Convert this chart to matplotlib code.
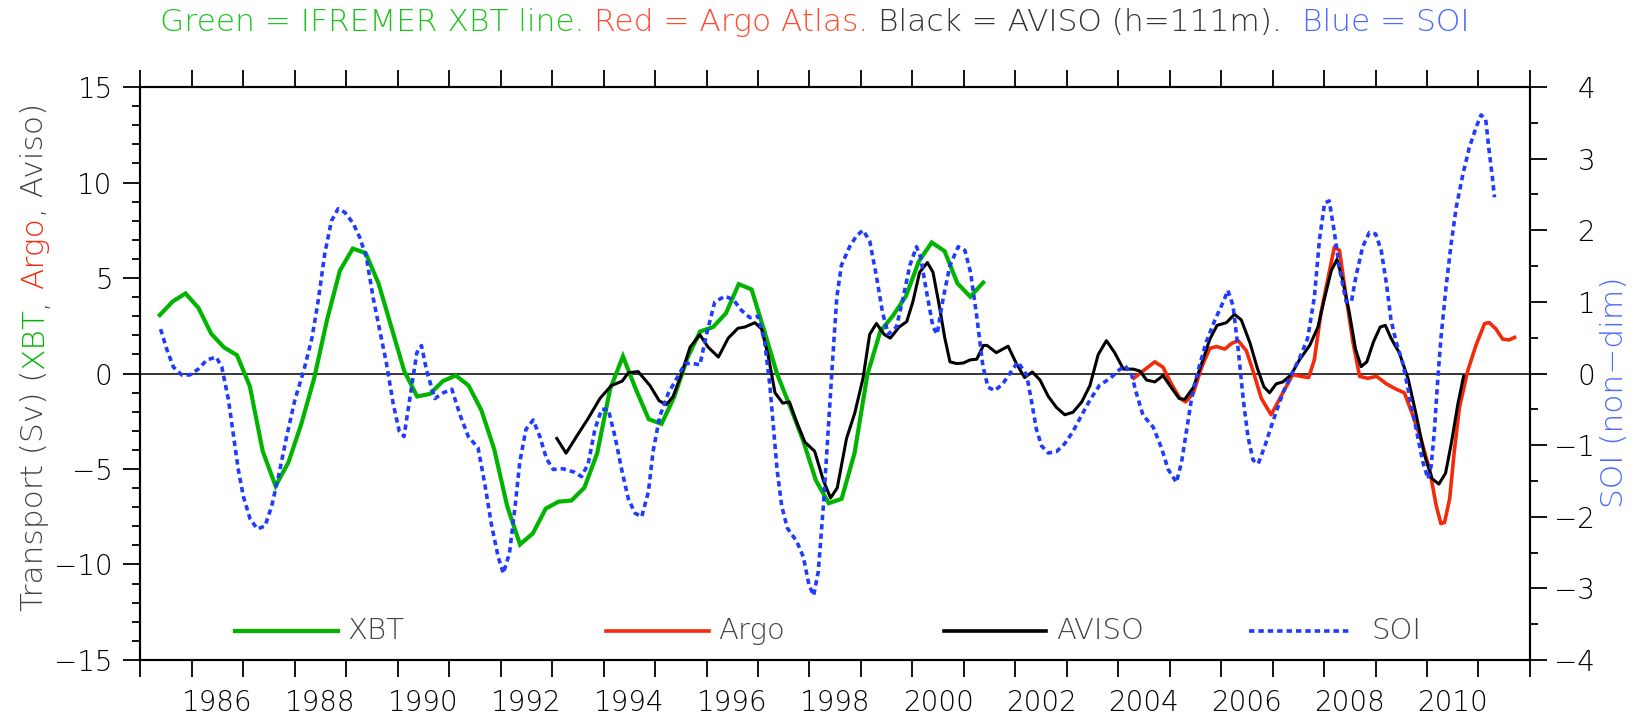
import matplotlib
matplotlib.use('Agg')
import matplotlib.pyplot as plt
import numpy as np
from matplotlib.ticker import FixedLocator, NullFormatter, FixedFormatter

plt.rcParams['font.family'] = ['DejaVu Sans']
plt.rcParams['font.weight'] = 'light'
plt.rcParams['axes.unicode_minus'] = True

# IFREMER XBT line, quarterly means (Sv)
xbt_start = 1985.375
xbt = [3.06, 3.77, 4.19, 3.44, 2.08, 1.36, 0.96, -0.67, -4.07, -5.89, -4.65,
       -2.64, -0.25, 2.81, 5.39, 6.54, 6.31, 4.72, 2.43, 0.13, -1.20, -1.07,
       -0.40, -0.10, -0.63, -1.93, -3.98, -6.94, -8.95, -8.37, -7.07, -6.71,
       -6.65, -5.98, -4.17, -0.82, 0.90, -0.82, -2.39, -2.64, -1.20, 0.80,
       2.20, 2.43, 3.15, 4.68, 4.40, 2.20, -0.06, -1.74, -3.50, -5.60, -6.79,
       -6.56, -4.17, -0.06, 2.20, 3.04, 4.05, 5.87, 6.86, 6.41, 4.72, 4.02,
       4.76]
xbt_time = xbt_start + 0.25 * np.arange(len(xbt))

# AVISO transport (h=111m), Sv
aviso_time = [1993.09, 1993.27, 1993.47, 1993.70, 1993.93, 1994.15, 1994.36,
              1994.48, 1994.67, 1994.90, 1995.08, 1995.22, 1995.35, 1995.51,
              1995.68, 1995.87, 1996.03, 1996.23, 1996.42, 1996.61, 1996.74,
              1996.94, 1997.07, 1997.20, 1997.33, 1997.48, 1997.61, 1997.75,
              1997.91, 1998.10, 1998.27, 1998.41, 1998.54, 1998.72, 1998.88,
              1999.04, 1999.17, 1999.30, 1999.45, 1999.57, 1999.74, 1999.89,
              2000.01, 2000.14, 2000.29, 2000.40, 2000.52, 2000.63, 2000.73,
              2000.86, 2000.99, 2001.12, 2001.25, 2001.38, 2001.45, 2001.63,
              2001.86, 2002.02, 2002.18, 2002.33, 2002.48, 2002.64, 2002.80,
              2002.96, 2003.12, 2003.29, 2003.45, 2003.61, 2003.77, 2003.93,
              2004.10, 2004.29, 2004.42, 2004.55, 2004.71, 2004.87, 2005.03,
              2005.18, 2005.29, 2005.46, 2005.62, 2005.78, 2005.92, 2006.10,
              2006.26, 2006.39, 2006.56, 2006.70, 2006.83, 2006.94, 2007.07,
              2007.20, 2007.36, 2007.52, 2007.72, 2007.88, 2008.01, 2008.14,
              2008.25, 2008.36, 2008.49, 2008.61, 2008.72, 2008.83, 2008.96,
              2009.09, 2009.19, 2009.30, 2009.46, 2009.63, 2009.79, 2009.95,
              2010.10, 2010.23, 2010.36, 2010.47, 2010.60, 2010.71]
aviso = [-3.40, -4.17, -3.31, -2.35, -1.30, -0.63, -0.40, 0.04, 0.10, -0.63,
         -1.43, -1.63, -1.20, -0.06, 1.38, 2.03, 1.38, 0.86, 1.85, 2.37, 2.43,
         2.66, 2.33, 0.90, -1.01, -1.55, -1.49, -2.54, -3.59, -4.07, -5.60,
         -6.52, -5.98, -3.40, -2.07, -0.25, 2.05, 2.62, 2.05, 1.85, 2.43, 2.72,
         3.77, 5.30, 5.81, 5.30, 3.58, 1.85, 0.61, 0.52, 0.55, 0.71, 0.75,
         1.47, 1.47, 1.09, 1.43, 0.52, -0.21, 0.08, -0.34, -1.20, -1.78,
         -2.16, -2.03, -1.49, -0.63, 0.99, 1.72, 1.09, 0.23, 0.23, 0.13,
         -0.34, -0.44, -0.11, -0.73, -1.30, -1.36, -0.73, 0.52, 1.80, 2.52,
         2.66, 3.10, 2.81, 1.60, 0.30, -0.70, -1.01, -0.54, -0.44, -0.06,
         0.71, 1.47, 2.43, 3.96, 5.39, 5.97, 4.91, 3.19, 1.28, 0.36, 0.61,
         1.66, 2.43, 2.52, 1.85, 1.09, -0.25, -2.16, -4.26, -5.51, -5.79,
         -5.22, -3.69, -1.59, -0.15]

# Argo atlas transport, Sv
argo_time = [2004.30, 2004.48, 2004.71, 2004.87, 2005.03, 2005.20, 2005.31,
             2005.46, 2005.62, 2005.78, 2005.91, 2006.07, 2006.20, 2006.33,
             2006.49, 2006.62, 2006.78, 2006.97, 2007.20, 2007.39, 2007.55,
             2007.70, 2007.81, 2007.94, 2008.07, 2008.20, 2008.30, 2008.43,
             2008.56, 2008.69, 2008.85, 2009.02, 2009.21, 2009.40, 2009.56,
             2009.72, 2009.89, 2010.05, 2010.18, 2010.27, 2010.34, 2010.44,
             2010.53, 2010.63, 2010.79, 2010.95, 2011.12, 2011.21, 2011.34,
             2011.47, 2011.60, 2011.70]
argo = [-0.25, 0.13, 0.61, 0.33, -0.54, -1.30, -1.49, -1.01, 0.33, 1.32,
        1.41, 1.28, 1.57, 1.72, 1.19, 0.13, -1.30, -2.16, -1.01, -0.06,
        -0.15, -0.21, 0.71, 3.19, 4.91, 6.63, 6.44, 3.96, 1.66, -0.15, -0.25,
        -0.15, -0.54, -0.82, -1.01, -2.16, -3.50, -5.03, -6.94, -7.86, -7.80,
        -6.56, -4.07, -1.78, 0.13, 1.47, 2.62, 2.66, 2.33, 1.80, 1.76, 1.89]

# Southern Oscillation Index (non-dimensional)
soi_time = [1985.39, 1985.51, 1985.64, 1985.80, 1985.96, 1986.12, 1986.29,
            1986.47, 1986.58, 1986.71, 1986.80, 1986.90, 1987.00, 1987.13,
            1987.27, 1987.42, 1987.55, 1987.68, 1987.84, 1988.00, 1988.18,
            1988.33, 1988.45, 1988.58, 1988.71, 1988.84, 1988.97, 1989.13,
            1989.26, 1989.39, 1989.52, 1989.65, 1989.78, 1989.91, 1990.03,
            1990.12, 1990.24, 1990.37, 1990.46, 1990.56, 1990.72, 1990.88,
            1991.05, 1991.21, 1991.37, 1991.56, 1991.69, 1991.82, 1991.95,
            1992.05, 1992.17, 1992.28, 1992.37, 1992.49, 1992.63, 1992.76,
            1992.89, 1993.02, 1993.21, 1993.44, 1993.57, 1993.70, 1993.83,
            1993.96, 1994.09, 1994.22, 1994.35, 1994.48, 1994.61, 1994.74,
            1994.87, 1994.96, 1995.09, 1995.26, 1995.42, 1995.58, 1995.74,
            1995.87, 1996.00, 1996.16, 1996.36, 1996.52, 1996.68, 1996.84,
            1997.00, 1997.13, 1997.23, 1997.31, 1997.37, 1997.46, 1997.57,
            1997.75, 1997.88, 1997.99, 1998.08, 1998.17, 1998.27, 1998.36,
            1998.45, 1998.53, 1998.62, 1998.78, 1998.91, 1999.04, 1999.17,
            1999.30, 1999.42, 1999.53, 1999.69, 1999.82, 1999.95, 2000.08,
            2000.16, 2000.27, 2000.40, 2000.48, 2000.60, 2000.73, 2000.89,
            2001.02, 2001.13, 2001.25, 2001.37, 2001.47, 2001.60, 2001.76,
            2001.93, 2002.05, 2002.22, 2002.31, 2002.41, 2002.51, 2002.64,
            2002.80, 2002.96, 2003.12, 2003.29, 2003.45, 2003.64, 2003.84,
            2004.00, 2004.13, 2004.26, 2004.35, 2004.48, 2004.68, 2004.84,
            2004.97, 2005.13, 2005.23, 2005.33, 2005.42, 2005.55, 2005.71,
            2005.88, 2006.04, 2006.13, 2006.23, 2006.33, 2006.43, 2006.52,
            2006.62, 2006.72, 2006.85, 2007.00, 2007.20, 2007.36, 2007.52,
            2007.68, 2007.81, 2007.91, 2008.01, 2008.10, 2008.20, 2008.30,
            2008.43, 2008.53, 2008.62, 2008.75, 2008.88, 2009.00, 2009.11,
            2009.21, 2009.30, 2009.40, 2009.53, 2009.66, 2009.79, 2009.92,
            2010.02, 2010.08, 2010.14, 2010.21, 2010.27, 2010.37, 2010.47,
            2010.57, 2010.70, 2010.82, 2010.95, 2011.05, 2011.14, 2011.20,
            2011.27, 2011.31]
soi = [0.62, 0.34, 0.09, -0.02, -0.02, 0.06, 0.19, 0.23, 0.09, -0.37, -0.83,
       -1.34, -1.72, -2.03, -2.17, -2.13, -1.85, -1.44, -0.88, -0.37, 0.06,
       0.49, 1.00, 1.67, 2.13, 2.30, 2.25, 2.10, 1.90, 1.62, 1.06, 0.60, 0.14,
       -0.42, -0.81, -0.88, -0.32, 0.29, 0.39, 0.04, -0.35, -0.27, -0.22,
       -0.58, -0.88, -1.04, -1.54, -2.11, -2.56, -2.79, -2.51, -1.85, -1.24,
       -0.78, -0.65, -0.88, -1.19, -1.34, -1.33, -1.38, -1.44, -1.26, -0.78,
       -0.50, -0.50, -0.88, -1.34, -1.75, -1.95, -2.00, -1.65, -1.09, -0.60,
       -0.27, -0.07, 0.14, 0.14, 0.12, 0.55, 1.00, 1.08, 1.03, 0.88, 0.78,
       0.80, 0.44, -0.17, -0.83, -1.34, -1.85, -2.16, -2.34, -2.56, -2.95,
       -3.10, -2.77, -1.85, -0.83, 0.19, 1.06, 1.51, 1.77, 1.92, 2.00, 1.85,
       1.36, 0.85, 0.55, 0.65, 1.06, 1.51, 1.77, 1.62, 1.16, 0.65, 0.55, 1.06,
       1.51, 1.77, 1.72, 1.41, 0.80, 0.10, -0.19, -0.24, -0.14, 0.04, 0.16,
       -0.02, -0.37, -0.78, -1.01, -1.11, -1.09, -0.98, -0.81, -0.58, -0.37,
       -0.16, -0.07, 0.04, 0.11, -0.02, -0.27, -0.58, -0.75, -1.04, -1.34,
       -1.52, -1.24, -0.78, -0.37, 0.04, 0.44, 0.75, 1.00, 1.16, 0.95, 0.34,
       -0.37, -0.88, -1.21, -1.26, -1.01, -0.68, -0.27, -0.02, 0.21, 0.49,
       1.06, 1.87, 2.38, 2.41, 1.97, 1.46, 1.00, 1.00, 1.36, 1.77, 1.97, 1.95,
       1.72, 1.26, 0.75, 0.44, 0.14, -0.32, -0.78, -1.24, -1.47, -1.29, -0.83,
       -0.07, 0.49, 1.21, 1.82, 2.33, 2.79, 3.15, 3.43, 3.61, 3.55, 3.15,
       2.74, 2.46]

year_labels = [str(y) for y in range(1986, 2011, 2)]

GREEN = '#00b400'
RED = '#f42a0a'
BLUE = '#1f3cff'
GREY = '#444444'
FS = 20      # tick labels
FS_LAB = 22.5  # title and axis labels
FS_LEG = 21

fig = plt.figure(figsize=(16.49, 7.18), dpi=100)
ax = fig.add_axes([0.0852, 0.0808, 0.8426, 0.798])
ax2 = ax.twinx()

ax.axhline(0, color='black', lw=1.1, zorder=1)
ax.plot(xbt_time, xbt, color=GREEN, lw=3.0, solid_joinstyle='miter', zorder=3)
ax.plot(argo_time, argo, color=RED, lw=2.6, zorder=4)
ax.plot(aviso_time, aviso, color='black', lw=2.2, zorder=5)
ax2.plot(soi_time, soi, color=BLUE, lw=2.6, linestyle=(0, (1.5, 1.1)),
         dash_capstyle='butt')

ax.set_xlim(1985, 2012)
ax.set_ylim(-15, 15)
ax2.set_ylim(-4, 4)

# year boundaries get plain ticks; labels sit at mid-year
ax.xaxis.set_major_locator(FixedLocator(np.arange(1985, 2013)))
ax.xaxis.set_major_formatter(NullFormatter())
ax.xaxis.set_minor_locator(FixedLocator([int(y) + 0.5 for y in year_labels]))
ax.xaxis.set_minor_formatter(FixedFormatter(year_labels))
ax.tick_params(axis='x', which='major', direction='out', length=12, width=1.3,
               top=True, bottom=True)
ax.tick_params(axis='x', which='minor', length=0, pad=21, labelsize=FS,
               top=False)

ax.set_yticks(np.arange(-15, 16, 5))
ax.set_yticks(np.arange(-15, 16, 1), minor=True)
ax.tick_params(axis='y', which='major', direction='out', length=12, width=1.3,
               pad=8, labelsize=FS)
ax.tick_params(axis='y', which='minor', direction='out', length=6, width=1.3)

ax2.set_yticks(np.arange(-4, 5, 1))
ax2.set_yticks(np.arange(-4, 4.01, 0.5), minor=True)
ax2.tick_params(axis='y', which='major', direction='out', length=12, width=1.3,
                pad=35, labelsize=FS)
ax2.tick_params(axis='y', which='minor', direction='out', length=6, width=1.3)
for lbl in ax2.get_yticklabels():
    lbl.set_horizontalalignment('right')

for a in (ax, ax2):
    for sp in a.spines.values():
        sp.set_linewidth(1.5)

# hand-made legend row along the bottom of the plot
legend_y = 0.05
entries = [(0.068, 'XBT', dict(color=GREEN, lw=3.0)),
           (0.335, 'Argo', dict(color=RED, lw=2.6)),
           (0.578, 'AVISO', dict(color='black', lw=2.6)),
           (0.798, 'SOI', dict(color=BLUE, lw=2.6, linestyle=(0, (1.5, 1.1))))]
for x0, name, style in entries:
    ax.plot([x0, x0 + 0.074], [legend_y, legend_y], transform=ax.transAxes,
            clip_on=False, **style)
    gap = 0.014 if name == 'SOI' else 0.007
    ax.text(x0 + 0.074 + gap, legend_y, name, transform=ax.transAxes,
            fontsize=FS_LEG, color=GREY, va='center', ha='left')


def chain(pieces, x, y, rotation=0, gap=7):
    """Draw differently coloured text pieces one after another."""
    first = fig.text(x, y, pieces[0][0], color=pieces[0][1], fontsize=FS_LAB,
                     rotation=rotation, ha='left', va='bottom')
    texts = [first]
    prev = first
    for s, c, g in pieces[1:]:
        if rotation == 0:
            t = plt.annotate(s, xy=(1, 0), xycoords=prev,
                             xytext=(g * gap, 0), textcoords='offset points',
                             color=c, fontsize=FS_LAB, ha='left', va='bottom',
                             annotation_clip=False)
        else:
            t = plt.annotate(s, xy=(0, 1), xycoords=prev,
                             xytext=(0, g * gap), textcoords='offset points',
                             color=c, fontsize=FS_LAB, rotation=rotation,
                             ha='left', va='bottom', annotation_clip=False)
        texts.append(t)
        prev = t
    return texts


def recentre(texts, cx, cy):
    fig.canvas.draw()
    r = fig.canvas.get_renderer()
    boxes = [t.get_window_extent(r) for t in texts]
    x0 = min(b.x0 for b in boxes)
    x1 = max(b.x1 for b in boxes)
    y0 = min(b.y0 for b in boxes)
    y1 = max(b.y1 for b in boxes)
    W, H = fig.bbox.width, fig.bbox.height
    dx = cx * W - (x0 + x1) / 2
    dy = cy * H - (y0 + y1) / 2
    px, py = texts[0].get_position()
    texts[0].set_position((px + dx / W, py + dy / H))


title = chain([('Green = IFREMER XBT line.', '#1ec41e', 0),
               ('Red = Argo Atlas.', '#ff4a30', 1),
               ('Black = AVISO (h=111m).', '#333333', 1),
               ('Blue = SOI', '#4a6aff', 2)], 0.1, 0.95)

ylab = chain([('Transport (Sv) (', GREY, 0),
              ('XBT', GREEN, 0),
              (',', GREY, 0),
              ('Argo', RED, 1),
              (', Aviso)', GREY, 0)], 0.02, 0.15, rotation=90)

soi_lab = fig.text(0.979, 0.454, 'SOI (non\u2212dim)', color='#4a6aff',
                   fontsize=FS_LAB, rotation=90, ha='center', va='center')

recentre(title, 0.494, 0.968)
recentre(ylab, 0.021, 0.503)

fig.savefig('out.png', dpi=100)
